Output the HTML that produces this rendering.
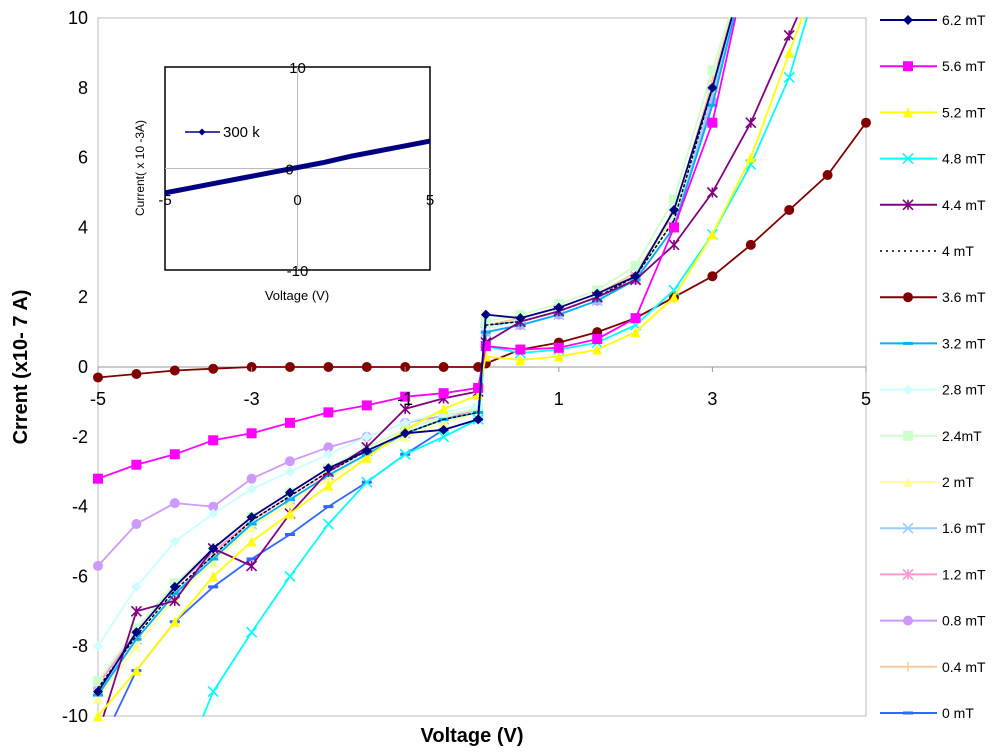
<!DOCTYPE html>
<html><head><meta charset="utf-8">
<style>
html,body{margin:0;padding:0;background:#fff;font-family:"Liberation Sans",sans-serif;overflow:hidden;width:1000px;height:755px;}
svg{display:block;}
svg text{font-family:"Liberation Sans",sans-serif;}
</style></head>
<body>
<svg id="chart" width="1000" height="755" viewBox="0 0 1000 755" xmlns="http://www.w3.org/2000/svg">
<rect x="98" y="18" width="768" height="698" fill="#fff" stroke="#bbb"/>
<g id="main"></g>
<g id="axes"></g>
<g id="legend"></g>
<g id="inset"></g>
</svg>
<script>
const V = [-5,-4.5,-4,-3.5,-3,-2.5,-2,-1.5,-1,-0.5,-0.05,0.05,0.5,1,1.5,2,2.5,3,3.5,4,4.5,5];
const names = ["6.2 mT","5.6  mT","5.2 mT","4.8 mT","4.4 mT","4 mT","3.6 mT","3.2 mT","2.8 mT","2.4mT","2 mT","1.6 mT","1.2 mT","0.8  mT","0.4 mT","0 mT"];
const colors = ["#000080","#ff00ff","#ffff00","#00ffff","#800080","#000000","#800000","#00b0f0","#ccffff","#ccffcc","#ffff99","#99ccff","#ff99cc","#cc99ff","#ffcc99","#3366ff"];
const markers = ["diamond","square","triangle","x","star","none","circle","dash","diamond","square","triangle","x","star","circle","plus","dash"];
const s62 = [-9.3,-7.6,-6.3,-5.2,-4.3,-3.6,-2.9,-2.4,-1.9,-1.8,-1.5,1.5,1.4,1.7,2.1,2.6,4.5,8,12,14,16,18];
const s56 = [-3.2,-2.8,-2.5,-2.1,-1.9,-1.6,-1.3,-1.1,-0.85,-0.75,-0.6,0.6,0.5,0.55,0.8,1.4,4,7,12,14,16,18];
const s52 = [-10,-8.7,-7.3,-6.0,-5.0,-4.2,-3.4,-2.6,-1.8,-1.2,-0.8,0.3,0.2,0.3,0.5,1.0,2.0,3.8,6,9,12,15];
const s48 = [-16,-14,-12,-9.3,-7.6,-6,-4.5,-3.3,-2.5,-2.0,-1.5,0.6,0.4,0.5,0.7,1.2,2.2,3.8,5.8,8.3,12,15];
const s44 = [-10.5,-7.0,-6.7,-5.2,-5.7,-4.2,-3.0,-2.3,-1.2,-0.9,-0.7,0.7,1.3,1.6,2.0,2.5,3.5,5.0,7,9.5,12,15];
const s40 = [-9.2,-7.7,-6.4,-5.4,-4.4,-3.7,-3.0,-2.4,-1.9,-1.5,-1.3,1.2,1.3,1.6,2.0,2.6,4.2,8,12,14,16,18];
const s36 = [-0.3,-0.2,-0.1,-0.05,0,0,0,0,0,0,0,0.1,0.5,0.7,1.0,1.4,2.0,2.6,3.5,4.5,5.5,7];
const s32 = [-9.4,-7.8,-6.5,-5.5,-4.5,-3.8,-3.1,-2.5,-1.9,-1.5,-1.3,1.0,1.2,1.5,1.9,2.5,4.0,7.5,12,14,16,18];
const s28 = [-8,-6.3,-5,-4.2,-3.5,-3,-2.5,-2,-1.6,-1.3,-1.1,1.1,1.3,1.6,2.0,2.6,4.2,8,12,14,16,18];
const s24 = [-9.0,-7.5,-6.2,-5.2,-4.3,-3.6,-2.9,-2.3,-1.8,-1.4,-1.2,1.3,1.5,1.8,2.2,2.9,4.8,8.5,12,14,16,18];
const s20 = [-9.5,-8.0,-6.6,-5.6,-4.6,-3.9,-3.2,-2.5,-2.0,-1.6,-1.3,1.1,1.3,1.6,2.0,2.6,4.3,8,12,14,16,18];
const s16 = [-9.3,-7.8,-6.5,-5.4,-4.5,-3.8,-3.1,-2.5,-1.9,-1.5,-1.3,1.0,1.2,1.5,1.9,2.5,4.0,7.8,12,14,16,18];
const s12 = [-9.1,-7.6,-6.3,-5.3,-4.4,-3.7,-3.0,-2.4,-1.9,-1.5,-1.2,1.1,1.3,1.6,2.0,2.6,4.2,8,12,14,16,18];
const s08 = [-5.7,-4.5,-3.9,-4.0,-3.2,-2.7,-2.3,-2.0,-1.6,-1.4,-1.2,1.0,1.2,1.5,1.9,2.5,4.0,7.6,12,14,16,18];
const s04 = [-9.0,-7.5,-6.2,-5.2,-4.3,-3.6,-2.9,-2.3,-1.8,-1.4,-1.2,1.2,1.4,1.7,2.1,2.7,4.4,8.2,12,14,16,18];
const s00 = [-11,-8.7,-7.3,-6.3,-5.5,-4.8,-4.0,-3.3,-2.5,-1.8,-1.5,1.2,1.3,1.6,2.0,2.6,4.3,8,12,14,16,18];
const series = [s62,s56,s52,s48,s44,s40,s36,s32,s28,s24,s20,s16,s12,s08,s04,s00];
const xTicks = [-5,-3,-1,1,3,5];
const yTicks = [-10,-8,-6,-4,-2,0,2,4,6,8,10];
const insetV = [-5,-4,-3,-2,-1,0,1,2,3,4,5];
const insetI = [-2.4,-1.9,-1.4,-0.9,-0.4,0.1,0.6,1.2,1.7,2.2,2.7];
const insetXTicks = [-5,0,5];
const insetYTicks = [-10,0,10];

const NS="http://www.w3.org/2000/svg";
const YMIN=-10, YMAX=10;
const xs = v => 98 + (v+5)*76.8;
const ys = i => 367 - i*34.9;
function mk(tag, attrs, parent){const e=document.createElementNS(NS,tag);for(const k in attrs)e.setAttribute(k,attrs[k]);parent.appendChild(e);return e;}
function marker(g,type,x,y,c,s){
  s=s||5;let e;
  if(type==="diamond") e=mk("polygon",{points:`${x},${y-s} ${x+s},${y} ${x},${y+s} ${x-s},${y}`,fill:c},g);
  else if(type==="square") e=mk("rect",{x:x-s,y:y-s,width:2*s,height:2*s,fill:c},g);
  else if(type==="triangle") e=mk("polygon",{points:`${x},${y-s} ${x+s},${y+s} ${x-s},${y+s}`,fill:c},g);
  else if(type==="circle") e=mk("circle",{cx:x,cy:y,r:s,fill:c},g);
  else if(type==="x") e=mk("path",{d:`M${x-s} ${y-s}L${x+s} ${y+s}M${x-s} ${y+s}L${x+s} ${y-s}`,stroke:c,"stroke-width":1.6},g);
  else if(type==="star") e=mk("path",{d:`M${x-s} ${y-s}L${x+s} ${y+s}M${x-s} ${y+s}L${x+s} ${y-s}M${x} ${y-s}L${x} ${y+s}`,stroke:c,"stroke-width":1.6},g);
  else if(type==="plus") e=mk("path",{d:`M${x-s} ${y}L${x+s} ${y}M${x} ${y-s}L${x} ${y+s}`,stroke:c,"stroke-width":1.6},g);
  else if(type==="dash") e=mk("rect",{x:x-s,y:y-1.5,width:2*s,height:3,fill:c},g);
  return e;
}
// clip polyline segments to the y-range of the plot
function clippedPath(vals){
  let d="";
  for(let i=0;i<vals.length-1;i++){
    let x0=V[i],y0=vals[i],x1=V[i+1],y1=vals[i+1];
    if((y0>YMAX&&y1>YMAX)||(y0<YMIN&&y1<YMIN)) continue;
    const clampPt=(xa,ya,xb,yb)=>{
      if(ya>YMAX){const t=(YMAX-ya)/(yb-ya);return [xa+t*(xb-xa),YMAX];}
      if(ya<YMIN){const t=(YMIN-ya)/(yb-ya);return [xa+t*(xb-xa),YMIN];}
      return [xa,ya];
    };
    const p0=clampPt(x0,y0,x1,y1), p1=clampPt(x1,y1,x0,y0);
    d+=`M${xs(p0[0]).toFixed(1)} ${ys(p0[1]).toFixed(1)}L${xs(p1[0]).toFixed(1)} ${ys(p1[1]).toFixed(1)}`;
  }
  return d;
}
const main=document.getElementById("main");
const ax=document.getElementById("axes");
const xl=mk("line",{x1:98,y1:ys(0),x2:866,y2:ys(0),stroke:"#999"},main);


for(let k=series.length-1;k>=0;k--){
  const g=mk("g",{},main);
  
  
  const p=mk("path",{d:clippedPath(series[k]),fill:"none",stroke:colors[k],"stroke-width":k===5?1.5:1.8,"stroke-dasharray":k===5?"2,3":"none","stroke-linecap":"round"},g);
  
  
  if(markers[k]!=="none"){
    series[k].forEach((v,i)=>{
      if(v>YMAX||v<YMIN) return;
      const m=marker(g,markers[k],xs(V[i]),ys(v),colors[k]);
      
      });
  }
}
xTicks.forEach(t=>{
  const tk=mk("line",{x1:xs(t),y1:ys(0),x2:xs(t),y2:ys(0)+5,stroke:"#999"},ax);
  
  
  const tx=mk("text",{x:xs(t),y:405,"font-size":18,"text-anchor":"middle",fill:"#000"},ax);
  tx.textContent=t;
  
  
});
yTicks.forEach(t=>{
  const tx=mk("text",{x:88,y:ys(t)+6,"font-size":18,"text-anchor":"end",fill:"#000"},ax);
  tx.textContent=t;
  
  
});
const yt=mk("text",{x:0,y:0,"font-size":20,"font-weight":"bold","text-anchor":"middle",transform:"translate(27,367) rotate(-90)"},ax);
yt.textContent="Crrent (x10- 7 A)";


const xt=mk("text",{x:472,y:742,"font-size":20,"font-weight":"bold","text-anchor":"middle"},ax);
xt.textContent="Voltage (V)";


const lg=document.getElementById("legend");
names.forEach((n,k)=>{
  const y=20+k*46.2;
  const g=mk("g",{},lg);
  
  
  mk("line",{x1:880,y1:y,x2:937,y2:y,stroke:colors[k],"stroke-width":k===5?1.5:2,"stroke-dasharray":k===5?"2,4":"none"},g);
  if(markers[k]!=="none") marker(g,markers[k],908,y,colors[k],5);
  const t=mk("text",{x:942,y:y+5,"font-size":14},g);
  t.textContent=n;
});
const ins=document.getElementById("inset");
const ix=v=>297.5+v*26.5, iy=i=>168.5-i*10.15;
const box=mk("rect",{x:165,y:67,width:265,height:203,fill:"#fff",stroke:"#000","stroke-width":1.5},ins);


mk("line",{x1:ix(0),y1:67,x2:ix(0),y2:270,stroke:"#bbb"},ins);
mk("line",{x1:165,y1:iy(0),x2:430,y2:iy(0),stroke:"#bbb"},ins);
const ip=mk("path",{d:insetI.map((v,i)=>(i?"L":"M")+ix(insetV[i])+" "+iy(v)).join(""),stroke:"#000080","stroke-width":5,fill:"none"},ins);


insetXTicks.forEach(t=>{const e=mk("text",{x:ix(t),y:205,"font-size":15,"text-anchor":"middle"},ins);e.textContent=t;
  
  });
insetYTicks.forEach(t=>{const e=mk("text",{x:ix(0)+(t===0?-8:0),y:iy(t)+6,"font-size":15,"text-anchor":"middle"},ins);e.textContent=t;
  
  });
const iyt=mk("text",{x:0,y:0,"font-size":12,"text-anchor":"middle",transform:"translate(144,168) rotate(-90)"},ins);
iyt.textContent="Current( x 10 -3A)";


const ixt=mk("text",{x:297,y:300,"font-size":13,"text-anchor":"middle"},ins);
ixt.textContent="Voltage (V)";


const il=mk("g",{},ins);


mk("line",{x1:185,y1:132,x2:220,y2:132,stroke:"#000080","stroke-width":1.5},il);
marker(il,"diamond",202,132,"#000080",3.5);
const ilt=mk("text",{x:223,y:137,"font-size":15},il);ilt.textContent="300 k";
</script>
</body></html>
